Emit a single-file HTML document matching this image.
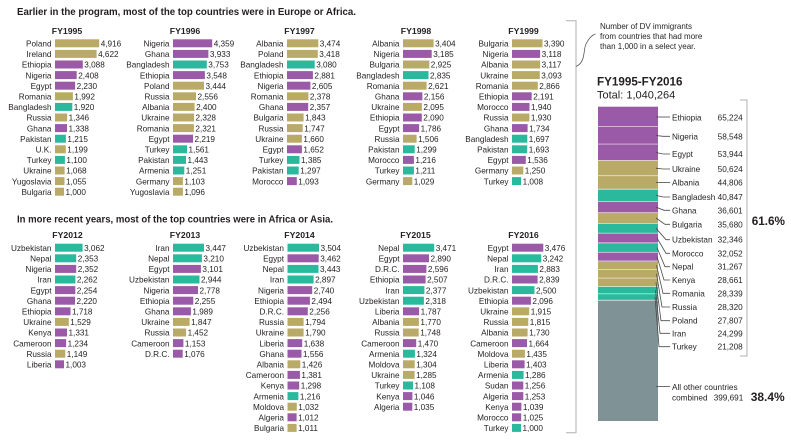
<!DOCTYPE html>
<html><head><meta charset="utf-8"><style>
html,body{margin:0;padding:0;background:#fff;}
svg{display:block;font-family:"Liberation Sans",sans-serif;}
.k{fill:#b9ab67}.p{fill:#9b5aa7}.t{fill:#2bb99e}
text{fill:#231f20;font-size:8.2px}
.l{text-anchor:end}
.h{font-weight:bold;font-size:10px}
.ti{font-weight:bold;font-size:8.7px;text-anchor:middle}
.ln{stroke:#4a4a4a;stroke-width:0.8;fill:none}
.br{stroke:#b0b0b0;stroke-width:1;fill:none}
</style></head><body>
<svg width="791" height="440" viewBox="0 0 791 440" xmlns="http://www.w3.org/2000/svg">
<rect width="791" height="440" fill="#fff"/>
<text class="h" x="17" y="15" textLength="339" lengthAdjust="spacingAndGlyphs">Earlier in the program, most of the top countries were in Europe or Africa.</text>
<text class="h" x="17" y="222.3" textLength="316" lengthAdjust="spacingAndGlyphs">In more recent years, most of the top countries were in Africa or Asia.</text>

<!-- titles -->
<text class="ti" x="67" y="34.2">FY1995</text>
<text class="ti" x="185" y="34.2">FY1996</text>
<text class="ti" x="299.5" y="34.2">FY1997</text>
<text class="ti" x="416" y="34.2">FY1998</text>
<text class="ti" x="523.5" y="34.2">FY1999</text>
<text class="ti" x="67.5" y="238.2">FY2012</text>
<text class="ti" x="185" y="238.2">FY2013</text>
<text class="ti" x="299.5" y="238.2">FY2014</text>
<text class="ti" x="415.5" y="238.2">FY2015</text>
<text class="ti" x="523.5" y="238.2">FY2016</text>

<!-- FY1995 -->
<g transform="translate(55,43.3)">
<g transform="translate(0,0)"><rect class="k" y="-4" width="44.2" height="8"/><text class="l" x="-3.5" y="3.2">Poland</text><text x="45.7" y="3.2">4,916</text></g>
<g transform="translate(0,10.6)"><rect class="k" y="-4" width="41.6" height="8"/><text class="l" x="-3.5" y="3.2">Ireland</text><text x="43.1" y="3.2">4,622</text></g>
<g transform="translate(0,21.2)"><rect class="p" y="-4" width="27.8" height="8"/><text class="l" x="-3.5" y="3.2">Ethiopia</text><text x="29.3" y="3.2">3,088</text></g>
<g transform="translate(0,31.8)"><rect class="p" y="-4" width="21.7" height="8"/><text class="l" x="-3.5" y="3.2">Nigeria</text><text x="23.2" y="3.2">2,408</text></g>
<g transform="translate(0,42.4)"><rect class="p" y="-4" width="20.1" height="8"/><text class="l" x="-3.5" y="3.2">Egypt</text><text x="21.6" y="3.2">2,230</text></g>
<g transform="translate(0,53)"><rect class="k" y="-4" width="17.9" height="8"/><text class="l" x="-3.5" y="3.2">Romania</text><text x="19.4" y="3.2">1,992</text></g>
<g transform="translate(0,63.6)"><rect class="t" y="-4" width="17.3" height="8"/><text class="l" x="-3.5" y="3.2">Bangladesh</text><text x="18.8" y="3.2">1,920</text></g>
<g transform="translate(0,74.2)"><rect class="k" y="-4" width="12.1" height="8"/><text class="l" x="-3.5" y="3.2">Russia</text><text x="13.6" y="3.2">1,346</text></g>
<g transform="translate(0,84.8)"><rect class="p" y="-4" width="12.0" height="8"/><text class="l" x="-3.5" y="3.2">Ghana</text><text x="13.5" y="3.2">1,338</text></g>
<g transform="translate(0,95.4)"><rect class="t" y="-4" width="10.9" height="8"/><text class="l" x="-3.5" y="3.2">Pakistan</text><text x="12.4" y="3.2">1,215</text></g>
<g transform="translate(0,106)"><rect class="k" y="-4" width="10.8" height="8"/><text class="l" x="-3.5" y="3.2">U.K.</text><text x="12.3" y="3.2">1,199</text></g>
<g transform="translate(0,116.6)"><rect class="t" y="-4" width="9.9" height="8"/><text class="l" x="-3.5" y="3.2">Turkey</text><text x="11.4" y="3.2">1,100</text></g>
<g transform="translate(0,127.2)"><rect class="k" y="-4" width="9.6" height="8"/><text class="l" x="-3.5" y="3.2">Ukraine</text><text x="11.1" y="3.2">1,068</text></g>
<g transform="translate(0,137.8)"><rect class="k" y="-4" width="9.5" height="8"/><text class="l" x="-3.5" y="3.2">Yugoslavia</text><text x="11.0" y="3.2">1,055</text></g>
<g transform="translate(0,148.4)"><rect class="k" y="-4" width="9.0" height="8"/><text class="l" x="-3.5" y="3.2">Bulgaria</text><text x="10.5" y="3.2">1,000</text></g>
</g>

<!-- FY1996 -->
<g transform="translate(173,43.3)">
<g transform="translate(0,0)"><rect class="p" y="-4" width="39.2" height="8"/><text class="l" x="-3.5" y="3.2">Nigeria</text><text x="40.7" y="3.2">4,359</text></g>
<g transform="translate(0,10.6)"><rect class="p" y="-4" width="35.4" height="8"/><text class="l" x="-3.5" y="3.2">Ghana</text><text x="36.9" y="3.2">3,933</text></g>
<g transform="translate(0,21.2)"><rect class="t" y="-4" width="33.8" height="8"/><text class="l" x="-3.5" y="3.2">Bangladesh</text><text x="35.3" y="3.2">3,753</text></g>
<g transform="translate(0,31.8)"><rect class="p" y="-4" width="31.9" height="8"/><text class="l" x="-3.5" y="3.2">Ethiopia</text><text x="33.4" y="3.2">3,548</text></g>
<g transform="translate(0,42.4)"><rect class="k" y="-4" width="31.0" height="8"/><text class="l" x="-3.5" y="3.2">Poland</text><text x="32.5" y="3.2">3,444</text></g>
<g transform="translate(0,53)"><rect class="k" y="-4" width="23.0" height="8"/><text class="l" x="-3.5" y="3.2">Russia</text><text x="24.5" y="3.2">2,556</text></g>
<g transform="translate(0,63.6)"><rect class="k" y="-4" width="21.6" height="8"/><text class="l" x="-3.5" y="3.2">Albania</text><text x="23.1" y="3.2">2,400</text></g>
<g transform="translate(0,74.2)"><rect class="k" y="-4" width="21.0" height="8"/><text class="l" x="-3.5" y="3.2">Ukraine</text><text x="22.5" y="3.2">2,328</text></g>
<g transform="translate(0,84.8)"><rect class="k" y="-4" width="20.9" height="8"/><text class="l" x="-3.5" y="3.2">Romania</text><text x="22.4" y="3.2">2,321</text></g>
<g transform="translate(0,95.4)"><rect class="p" y="-4" width="20.0" height="8"/><text class="l" x="-3.5" y="3.2">Egypt</text><text x="21.5" y="3.2">2,219</text></g>
<g transform="translate(0,106)"><rect class="t" y="-4" width="14.0" height="8"/><text class="l" x="-3.5" y="3.2">Turkey</text><text x="15.5" y="3.2">1,561</text></g>
<g transform="translate(0,116.6)"><rect class="t" y="-4" width="13.0" height="8"/><text class="l" x="-3.5" y="3.2">Pakistan</text><text x="14.5" y="3.2">1,443</text></g>
<g transform="translate(0,127.2)"><rect class="t" y="-4" width="11.3" height="8"/><text class="l" x="-3.5" y="3.2">Armenia</text><text x="12.8" y="3.2">1,251</text></g>
<g transform="translate(0,137.8)"><rect class="k" y="-4" width="9.9" height="8"/><text class="l" x="-3.5" y="3.2">Germany</text><text x="11.4" y="3.2">1,103</text></g>
<g transform="translate(0,148.4)"><rect class="k" y="-4" width="9.9" height="8"/><text class="l" x="-3.5" y="3.2">Yugoslavia</text><text x="11.4" y="3.2">1,096</text></g>
</g>

<!-- FY1997 -->
<g transform="translate(287,43.3)">
<g transform="translate(0,0)"><rect class="k" y="-4" width="31.3" height="8"/><text class="l" x="-3.5" y="3.2">Albania</text><text x="32.8" y="3.2">3,474</text></g>
<g transform="translate(0,10.6)"><rect class="k" y="-4" width="30.8" height="8"/><text class="l" x="-3.5" y="3.2">Poland</text><text x="32.3" y="3.2">3,418</text></g>
<g transform="translate(0,21.2)"><rect class="t" y="-4" width="27.7" height="8"/><text class="l" x="-3.5" y="3.2">Bangladesh</text><text x="29.2" y="3.2">3,080</text></g>
<g transform="translate(0,31.8)"><rect class="p" y="-4" width="25.9" height="8"/><text class="l" x="-3.5" y="3.2">Ethiopia</text><text x="27.4" y="3.2">2,881</text></g>
<g transform="translate(0,42.4)"><rect class="p" y="-4" width="23.4" height="8"/><text class="l" x="-3.5" y="3.2">Nigeria</text><text x="24.9" y="3.2">2,605</text></g>
<g transform="translate(0,53)"><rect class="k" y="-4" width="21.4" height="8"/><text class="l" x="-3.5" y="3.2">Romania</text><text x="22.9" y="3.2">2,378</text></g>
<g transform="translate(0,63.6)"><rect class="p" y="-4" width="21.2" height="8"/><text class="l" x="-3.5" y="3.2">Ghana</text><text x="22.7" y="3.2">2,357</text></g>
<g transform="translate(0,74.2)"><rect class="k" y="-4" width="16.6" height="8"/><text class="l" x="-3.5" y="3.2">Bulgaria</text><text x="18.1" y="3.2">1,843</text></g>
<g transform="translate(0,84.8)"><rect class="k" y="-4" width="15.7" height="8"/><text class="l" x="-3.5" y="3.2">Russia</text><text x="17.2" y="3.2">1,747</text></g>
<g transform="translate(0,95.4)"><rect class="k" y="-4" width="14.9" height="8"/><text class="l" x="-3.5" y="3.2">Ukraine</text><text x="16.4" y="3.2">1,660</text></g>
<g transform="translate(0,106)"><rect class="p" y="-4" width="14.9" height="8"/><text class="l" x="-3.5" y="3.2">Egypt</text><text x="16.4" y="3.2">1,652</text></g>
<g transform="translate(0,116.6)"><rect class="t" y="-4" width="12.5" height="8"/><text class="l" x="-3.5" y="3.2">Turkey</text><text x="14.0" y="3.2">1,385</text></g>
<g transform="translate(0,127.2)"><rect class="t" y="-4" width="11.7" height="8"/><text class="l" x="-3.5" y="3.2">Pakistan</text><text x="13.2" y="3.2">1,297</text></g>
<g transform="translate(0,137.8)"><rect class="p" y="-4" width="9.8" height="8"/><text class="l" x="-3.5" y="3.2">Morocco</text><text x="11.3" y="3.2">1,093</text></g>
</g>

<!-- FY1998 -->
<g transform="translate(403,43.3)">
<g transform="translate(0,0)"><rect class="k" y="-4" width="30.6" height="8"/><text class="l" x="-3.5" y="3.2">Albania</text><text x="32.1" y="3.2">3,404</text></g>
<g transform="translate(0,10.6)"><rect class="p" y="-4" width="28.7" height="8"/><text class="l" x="-3.5" y="3.2">Nigeria</text><text x="30.2" y="3.2">3,185</text></g>
<g transform="translate(0,21.2)"><rect class="k" y="-4" width="26.3" height="8"/><text class="l" x="-3.5" y="3.2">Bulgaria</text><text x="27.8" y="3.2">2,925</text></g>
<g transform="translate(0,31.8)"><rect class="t" y="-4" width="25.5" height="8"/><text class="l" x="-3.5" y="3.2">Bangladesh</text><text x="27.0" y="3.2">2,835</text></g>
<g transform="translate(0,42.4)"><rect class="k" y="-4" width="23.6" height="8"/><text class="l" x="-3.5" y="3.2">Romania</text><text x="25.1" y="3.2">2,621</text></g>
<g transform="translate(0,53)"><rect class="p" y="-4" width="19.4" height="8"/><text class="l" x="-3.5" y="3.2">Ghana</text><text x="20.9" y="3.2">2,156</text></g>
<g transform="translate(0,63.6)"><rect class="k" y="-4" width="18.9" height="8"/><text class="l" x="-3.5" y="3.2">Ukraine</text><text x="20.4" y="3.2">2,095</text></g>
<g transform="translate(0,74.2)"><rect class="p" y="-4" width="18.8" height="8"/><text class="l" x="-3.5" y="3.2">Ethiopia</text><text x="20.3" y="3.2">2,090</text></g>
<g transform="translate(0,84.8)"><rect class="p" y="-4" width="16.1" height="8"/><text class="l" x="-3.5" y="3.2">Egypt</text><text x="17.6" y="3.2">1,786</text></g>
<g transform="translate(0,95.4)"><rect class="k" y="-4" width="13.6" height="8"/><text class="l" x="-3.5" y="3.2">Russia</text><text x="15.1" y="3.2">1,506</text></g>
<g transform="translate(0,106)"><rect class="t" y="-4" width="11.7" height="8"/><text class="l" x="-3.5" y="3.2">Pakistan</text><text x="13.2" y="3.2">1,299</text></g>
<g transform="translate(0,116.6)"><rect class="p" y="-4" width="10.9" height="8"/><text class="l" x="-3.5" y="3.2">Morocco</text><text x="12.4" y="3.2">1,216</text></g>
<g transform="translate(0,127.2)"><rect class="t" y="-4" width="10.9" height="8"/><text class="l" x="-3.5" y="3.2">Turkey</text><text x="12.4" y="3.2">1,211</text></g>
<g transform="translate(0,137.8)"><rect class="k" y="-4" width="9.3" height="8"/><text class="l" x="-3.5" y="3.2">Germany</text><text x="10.8" y="3.2">1,029</text></g>
</g>

<!-- FY1999 -->
<g transform="translate(512,43.3)">
<g transform="translate(0,0)"><rect class="k" y="-4" width="30.5" height="8"/><text class="l" x="-3.5" y="3.2">Bulgaria</text><text x="32.0" y="3.2">3,390</text></g>
<g transform="translate(0,10.6)"><rect class="p" y="-4" width="28.1" height="8"/><text class="l" x="-3.5" y="3.2">Nigeria</text><text x="29.6" y="3.2">3,118</text></g>
<g transform="translate(0,21.2)"><rect class="k" y="-4" width="28.1" height="8"/><text class="l" x="-3.5" y="3.2">Albania</text><text x="29.6" y="3.2">3,117</text></g>
<g transform="translate(0,31.8)"><rect class="k" y="-4" width="27.8" height="8"/><text class="l" x="-3.5" y="3.2">Ukraine</text><text x="29.3" y="3.2">3,093</text></g>
<g transform="translate(0,42.4)"><rect class="k" y="-4" width="25.8" height="8"/><text class="l" x="-3.5" y="3.2">Romania</text><text x="27.3" y="3.2">2,866</text></g>
<g transform="translate(0,53)"><rect class="p" y="-4" width="19.7" height="8"/><text class="l" x="-3.5" y="3.2">Ethiopia</text><text x="21.2" y="3.2">2,191</text></g>
<g transform="translate(0,63.6)"><rect class="p" y="-4" width="17.5" height="8"/><text class="l" x="-3.5" y="3.2">Morocco</text><text x="19.0" y="3.2">1,940</text></g>
<g transform="translate(0,74.2)"><rect class="k" y="-4" width="17.4" height="8"/><text class="l" x="-3.5" y="3.2">Russia</text><text x="18.9" y="3.2">1,930</text></g>
<g transform="translate(0,84.8)"><rect class="p" y="-4" width="15.6" height="8"/><text class="l" x="-3.5" y="3.2">Ghana</text><text x="17.1" y="3.2">1,734</text></g>
<g transform="translate(0,95.4)"><rect class="t" y="-4" width="15.3" height="8"/><text class="l" x="-3.5" y="3.2">Bangladesh</text><text x="16.8" y="3.2">1,697</text></g>
<g transform="translate(0,106)"><rect class="t" y="-4" width="15.2" height="8"/><text class="l" x="-3.5" y="3.2">Pakistan</text><text x="16.7" y="3.2">1,693</text></g>
<g transform="translate(0,116.6)"><rect class="p" y="-4" width="13.8" height="8"/><text class="l" x="-3.5" y="3.2">Egypt</text><text x="15.3" y="3.2">1,536</text></g>
<g transform="translate(0,127.2)"><rect class="k" y="-4" width="11.3" height="8"/><text class="l" x="-3.5" y="3.2">Germany</text><text x="12.8" y="3.2">1,250</text></g>
<g transform="translate(0,137.8)"><rect class="t" y="-4" width="9.1" height="8"/><text class="l" x="-3.5" y="3.2">Turkey</text><text x="10.6" y="3.2">1,008</text></g>
</g>

<!-- FY2012 -->
<g transform="translate(55,247.7)">
<g transform="translate(0,0)"><rect class="t" y="-4" width="27.6" height="8"/><text class="l" x="-3.5" y="3.2">Uzbekistan</text><text x="29.1" y="3.2">3,062</text></g>
<g transform="translate(0,10.6)"><rect class="t" y="-4" width="21.2" height="8"/><text class="l" x="-3.5" y="3.2">Nepal</text><text x="22.7" y="3.2">2,353</text></g>
<g transform="translate(0,21.2)"><rect class="p" y="-4" width="21.2" height="8"/><text class="l" x="-3.5" y="3.2">Nigeria</text><text x="22.7" y="3.2">2,352</text></g>
<g transform="translate(0,31.8)"><rect class="t" y="-4" width="20.4" height="8"/><text class="l" x="-3.5" y="3.2">Iran</text><text x="21.9" y="3.2">2,262</text></g>
<g transform="translate(0,42.4)"><rect class="p" y="-4" width="20.3" height="8"/><text class="l" x="-3.5" y="3.2">Egypt</text><text x="21.8" y="3.2">2,254</text></g>
<g transform="translate(0,53)"><rect class="p" y="-4" width="20.0" height="8"/><text class="l" x="-3.5" y="3.2">Ghana</text><text x="21.5" y="3.2">2,220</text></g>
<g transform="translate(0,63.6)"><rect class="p" y="-4" width="15.5" height="8"/><text class="l" x="-3.5" y="3.2">Ethiopia</text><text x="17.0" y="3.2">1,718</text></g>
<g transform="translate(0,74.2)"><rect class="k" y="-4" width="13.8" height="8"/><text class="l" x="-3.5" y="3.2">Ukraine</text><text x="15.3" y="3.2">1,529</text></g>
<g transform="translate(0,84.8)"><rect class="p" y="-4" width="12.0" height="8"/><text class="l" x="-3.5" y="3.2">Kenya</text><text x="13.5" y="3.2">1,331</text></g>
<g transform="translate(0,95.4)"><rect class="p" y="-4" width="11.1" height="8"/><text class="l" x="-3.5" y="3.2">Cameroon</text><text x="12.6" y="3.2">1,234</text></g>
<g transform="translate(0,106)"><rect class="k" y="-4" width="10.3" height="8"/><text class="l" x="-3.5" y="3.2">Russia</text><text x="11.8" y="3.2">1,149</text></g>
<g transform="translate(0,116.6)"><rect class="p" y="-4" width="9.0" height="8"/><text class="l" x="-3.5" y="3.2">Liberia</text><text x="10.5" y="3.2">1,003</text></g>
</g>

<!-- FY2013 -->
<g transform="translate(173,247.7)">
<g transform="translate(0,0)"><rect class="t" y="-4" width="31.0" height="8"/><text class="l" x="-3.5" y="3.2">Iran</text><text x="32.5" y="3.2">3,447</text></g>
<g transform="translate(0,10.6)"><rect class="t" y="-4" width="28.9" height="8"/><text class="l" x="-3.5" y="3.2">Nepal</text><text x="30.4" y="3.2">3,210</text></g>
<g transform="translate(0,21.2)"><rect class="p" y="-4" width="27.9" height="8"/><text class="l" x="-3.5" y="3.2">Egypt</text><text x="29.4" y="3.2">3,101</text></g>
<g transform="translate(0,31.8)"><rect class="t" y="-4" width="26.5" height="8"/><text class="l" x="-3.5" y="3.2">Uzbekistan</text><text x="28.0" y="3.2">2,944</text></g>
<g transform="translate(0,42.4)"><rect class="p" y="-4" width="25.0" height="8"/><text class="l" x="-3.5" y="3.2">Nigeria</text><text x="26.5" y="3.2">2,778</text></g>
<g transform="translate(0,53)"><rect class="p" y="-4" width="20.3" height="8"/><text class="l" x="-3.5" y="3.2">Ethiopia</text><text x="21.8" y="3.2">2,255</text></g>
<g transform="translate(0,63.6)"><rect class="p" y="-4" width="17.9" height="8"/><text class="l" x="-3.5" y="3.2">Ghana</text><text x="19.4" y="3.2">1,989</text></g>
<g transform="translate(0,74.2)"><rect class="k" y="-4" width="16.6" height="8"/><text class="l" x="-3.5" y="3.2">Ukraine</text><text x="18.1" y="3.2">1,847</text></g>
<g transform="translate(0,84.8)"><rect class="k" y="-4" width="13.1" height="8"/><text class="l" x="-3.5" y="3.2">Russia</text><text x="14.6" y="3.2">1,452</text></g>
<g transform="translate(0,95.4)"><rect class="p" y="-4" width="10.4" height="8"/><text class="l" x="-3.5" y="3.2">Cameroon</text><text x="11.9" y="3.2">1,153</text></g>
<g transform="translate(0,106)"><rect class="p" y="-4" width="9.7" height="8"/><text class="l" x="-3.5" y="3.2">D.R.C.</text><text x="11.2" y="3.2">1,076</text></g>
</g>

<!-- FY2014 -->
<g transform="translate(287.5,247.7)">
<g transform="translate(0,0)"><rect class="t" y="-4" width="31.5" height="8"/><text class="l" x="-3.5" y="3.2">Uzbekistan</text><text x="33.0" y="3.2">3,504</text></g>
<g transform="translate(0,10.6)"><rect class="p" y="-4" width="31.2" height="8"/><text class="l" x="-3.5" y="3.2">Egypt</text><text x="32.7" y="3.2">3,462</text></g>
<g transform="translate(0,21.2)"><rect class="t" y="-4" width="31.0" height="8"/><text class="l" x="-3.5" y="3.2">Nepal</text><text x="32.5" y="3.2">3,443</text></g>
<g transform="translate(0,31.8)"><rect class="t" y="-4" width="26.1" height="8"/><text class="l" x="-3.5" y="3.2">Iran</text><text x="27.6" y="3.2">2,897</text></g>
<g transform="translate(0,42.4)"><rect class="p" y="-4" width="24.7" height="8"/><text class="l" x="-3.5" y="3.2">Nigeria</text><text x="26.2" y="3.2">2,740</text></g>
<g transform="translate(0,53)"><rect class="p" y="-4" width="22.4" height="8"/><text class="l" x="-3.5" y="3.2">Ethiopia</text><text x="23.9" y="3.2">2,494</text></g>
<g transform="translate(0,63.6)"><rect class="p" y="-4" width="20.3" height="8"/><text class="l" x="-3.5" y="3.2">D.R.C.</text><text x="21.8" y="3.2">2,256</text></g>
<g transform="translate(0,74.2)"><rect class="k" y="-4" width="16.1" height="8"/><text class="l" x="-3.5" y="3.2">Russia</text><text x="17.6" y="3.2">1,794</text></g>
<g transform="translate(0,84.8)"><rect class="k" y="-4" width="16.1" height="8"/><text class="l" x="-3.5" y="3.2">Ukraine</text><text x="17.6" y="3.2">1,790</text></g>
<g transform="translate(0,95.4)"><rect class="p" y="-4" width="14.7" height="8"/><text class="l" x="-3.5" y="3.2">Liberia</text><text x="16.2" y="3.2">1,638</text></g>
<g transform="translate(0,106)"><rect class="p" y="-4" width="14.0" height="8"/><text class="l" x="-3.5" y="3.2">Ghana</text><text x="15.5" y="3.2">1,556</text></g>
<g transform="translate(0,116.6)"><rect class="k" y="-4" width="12.8" height="8"/><text class="l" x="-3.5" y="3.2">Albania</text><text x="14.3" y="3.2">1,426</text></g>
<g transform="translate(0,127.2)"><rect class="p" y="-4" width="12.4" height="8"/><text class="l" x="-3.5" y="3.2">Cameroon</text><text x="13.9" y="3.2">1,381</text></g>
<g transform="translate(0,137.8)"><rect class="p" y="-4" width="11.7" height="8"/><text class="l" x="-3.5" y="3.2">Kenya</text><text x="13.2" y="3.2">1,298</text></g>
<g transform="translate(0,148.4)"><rect class="t" y="-4" width="10.9" height="8"/><text class="l" x="-3.5" y="3.2">Armenia</text><text x="12.4" y="3.2">1,216</text></g>
<g transform="translate(0,159)"><rect class="k" y="-4" width="9.3" height="8"/><text class="l" x="-3.5" y="3.2">Moldova</text><text x="10.8" y="3.2">1,032</text></g>
<g transform="translate(0,169.6)"><rect class="p" y="-4" width="9.1" height="8"/><text class="l" x="-3.5" y="3.2">Algeria</text><text x="10.6" y="3.2">1,012</text></g>
<g transform="translate(0,180.2)"><rect class="k" y="-4" width="9.1" height="8"/><text class="l" x="-3.5" y="3.2">Bulgaria</text><text x="10.6" y="3.2">1,011</text></g>
</g>

<!-- FY2015 -->
<g transform="translate(403,247.7)">
<g transform="translate(0,0)"><rect class="t" y="-4" width="31.2" height="8"/><text class="l" x="-3.5" y="3.2">Nepal</text><text x="32.7" y="3.2">3,471</text></g>
<g transform="translate(0,10.6)"><rect class="p" y="-4" width="26.0" height="8"/><text class="l" x="-3.5" y="3.2">Egypt</text><text x="27.5" y="3.2">2,890</text></g>
<g transform="translate(0,21.2)"><rect class="p" y="-4" width="23.4" height="8"/><text class="l" x="-3.5" y="3.2">D.R.C.</text><text x="24.9" y="3.2">2,596</text></g>
<g transform="translate(0,31.8)"><rect class="p" y="-4" width="22.6" height="8"/><text class="l" x="-3.5" y="3.2">Ethiopia</text><text x="24.1" y="3.2">2,507</text></g>
<g transform="translate(0,42.4)"><rect class="t" y="-4" width="21.4" height="8"/><text class="l" x="-3.5" y="3.2">Iran</text><text x="22.9" y="3.2">2,377</text></g>
<g transform="translate(0,53)"><rect class="t" y="-4" width="20.9" height="8"/><text class="l" x="-3.5" y="3.2">Uzbekistan</text><text x="22.4" y="3.2">2,318</text></g>
<g transform="translate(0,63.6)"><rect class="p" y="-4" width="16.1" height="8"/><text class="l" x="-3.5" y="3.2">Liberia</text><text x="17.6" y="3.2">1,787</text></g>
<g transform="translate(0,74.2)"><rect class="k" y="-4" width="15.9" height="8"/><text class="l" x="-3.5" y="3.2">Albania</text><text x="17.4" y="3.2">1,770</text></g>
<g transform="translate(0,84.8)"><rect class="k" y="-4" width="15.7" height="8"/><text class="l" x="-3.5" y="3.2">Russia</text><text x="17.2" y="3.2">1,748</text></g>
<g transform="translate(0,95.4)"><rect class="p" y="-4" width="13.2" height="8"/><text class="l" x="-3.5" y="3.2">Cameroon</text><text x="14.7" y="3.2">1,470</text></g>
<g transform="translate(0,106)"><rect class="t" y="-4" width="11.9" height="8"/><text class="l" x="-3.5" y="3.2">Armenia</text><text x="13.4" y="3.2">1,324</text></g>
<g transform="translate(0,116.6)"><rect class="k" y="-4" width="11.7" height="8"/><text class="l" x="-3.5" y="3.2">Moldova</text><text x="13.2" y="3.2">1,304</text></g>
<g transform="translate(0,127.2)"><rect class="k" y="-4" width="11.6" height="8"/><text class="l" x="-3.5" y="3.2">Ukraine</text><text x="13.1" y="3.2">1,285</text></g>
<g transform="translate(0,137.8)"><rect class="t" y="-4" width="10.0" height="8"/><text class="l" x="-3.5" y="3.2">Turkey</text><text x="11.5" y="3.2">1,108</text></g>
<g transform="translate(0,148.4)"><rect class="p" y="-4" width="9.4" height="8"/><text class="l" x="-3.5" y="3.2">Kenya</text><text x="10.9" y="3.2">1,046</text></g>
<g transform="translate(0,159)"><rect class="p" y="-4" width="9.3" height="8"/><text class="l" x="-3.5" y="3.2">Algeria</text><text x="10.8" y="3.2">1,035</text></g>
</g>

<!-- FY2016 -->
<g transform="translate(512,247.7)">
<g transform="translate(0,0)"><rect class="p" y="-4" width="31.3" height="8"/><text class="l" x="-3.5" y="3.2">Egypt</text><text x="32.8" y="3.2">3,476</text></g>
<g transform="translate(0,10.6)"><rect class="t" y="-4" width="29.2" height="8"/><text class="l" x="-3.5" y="3.2">Nepal</text><text x="30.7" y="3.2">3,242</text></g>
<g transform="translate(0,21.2)"><rect class="t" y="-4" width="25.9" height="8"/><text class="l" x="-3.5" y="3.2">Iran</text><text x="27.4" y="3.2">2,883</text></g>
<g transform="translate(0,31.8)"><rect class="p" y="-4" width="25.6" height="8"/><text class="l" x="-3.5" y="3.2">D.R.C.</text><text x="27.1" y="3.2">2,839</text></g>
<g transform="translate(0,42.4)"><rect class="t" y="-4" width="22.5" height="8"/><text class="l" x="-3.5" y="3.2">Uzbekistan</text><text x="24.0" y="3.2">2,500</text></g>
<g transform="translate(0,53)"><rect class="p" y="-4" width="18.9" height="8"/><text class="l" x="-3.5" y="3.2">Ethiopia</text><text x="20.4" y="3.2">2,096</text></g>
<g transform="translate(0,63.6)"><rect class="k" y="-4" width="17.2" height="8"/><text class="l" x="-3.5" y="3.2">Ukraine</text><text x="18.7" y="3.2">1,915</text></g>
<g transform="translate(0,74.2)"><rect class="k" y="-4" width="16.3" height="8"/><text class="l" x="-3.5" y="3.2">Russia</text><text x="17.8" y="3.2">1,815</text></g>
<g transform="translate(0,84.8)"><rect class="k" y="-4" width="15.6" height="8"/><text class="l" x="-3.5" y="3.2">Albania</text><text x="17.1" y="3.2">1,730</text></g>
<g transform="translate(0,95.4)"><rect class="p" y="-4" width="15.0" height="8"/><text class="l" x="-3.5" y="3.2">Cameroon</text><text x="16.5" y="3.2">1,664</text></g>
<g transform="translate(0,106)"><rect class="k" y="-4" width="12.9" height="8"/><text class="l" x="-3.5" y="3.2">Moldova</text><text x="14.4" y="3.2">1,435</text></g>
<g transform="translate(0,116.6)"><rect class="p" y="-4" width="12.6" height="8"/><text class="l" x="-3.5" y="3.2">Liberia</text><text x="14.1" y="3.2">1,403</text></g>
<g transform="translate(0,127.2)"><rect class="t" y="-4" width="11.6" height="8"/><text class="l" x="-3.5" y="3.2">Armenia</text><text x="13.1" y="3.2">1,286</text></g>
<g transform="translate(0,137.8)"><rect class="p" y="-4" width="11.3" height="8"/><text class="l" x="-3.5" y="3.2">Sudan</text><text x="12.8" y="3.2">1,256</text></g>
<g transform="translate(0,148.4)"><rect class="p" y="-4" width="11.3" height="8"/><text class="l" x="-3.5" y="3.2">Algeria</text><text x="12.8" y="3.2">1,253</text></g>
<g transform="translate(0,159)"><rect class="p" y="-4" width="9.4" height="8"/><text class="l" x="-3.5" y="3.2">Kenya</text><text x="10.9" y="3.2">1,039</text></g>
<g transform="translate(0,169.6)"><rect class="p" y="-4" width="9.2" height="8"/><text class="l" x="-3.5" y="3.2">Morocco</text><text x="10.7" y="3.2">1,025</text></g>
<g transform="translate(0,180.2)"><rect class="t" y="-4" width="9.0" height="8"/><text class="l" x="-3.5" y="3.2">Turkey</text><text x="10.5" y="3.2">1,000</text></g>
</g>

<!-- big bracket and curve -->
<path class="br" d="M566,20.7 H576 V432.7 H566"/>
<path d="M576,66.5 C586,62 583,50 586,44 C589,38 592,35 595.5,34" stroke="#555" stroke-width="0.8" fill="none"/>
<text x="600" y="29" style="font-size:8px">Number of DV immigrants</text>
<text x="600" y="38.9" style="font-size:8px">from countries that had more</text>
<text x="600" y="48.8" style="font-size:8px">than 1,000 in a select year.</text>

<text x="597" y="85.5" style="font-size:12px;font-weight:bold" textLength="85.5" lengthAdjust="spacingAndGlyphs">FY1995-FY2016</text>
<text x="597" y="98.7" style="font-size:11px">Total: 1,040,264</text>

<!-- stacked bar -->
<rect class="p" x="598" y="106.7" width="60" height="19.71"/>
<rect class="p" x="598" y="126.41" width="60" height="17.69"/>
<rect class="p" x="598" y="144.1" width="60" height="16.3"/>
<rect class="k" x="598" y="160.4" width="60" height="15.3"/>
<rect class="k" x="598" y="175.7" width="60" height="13.54"/>
<rect class="t" x="598" y="189.24" width="60" height="12.34"/>
<rect class="p" x="598" y="201.58" width="60" height="11.06"/>
<rect class="k" x="598" y="212.64" width="60" height="10.78"/>
<rect class="t" x="598" y="223.42" width="60" height="9.77"/>
<rect class="p" x="598" y="233.19" width="60" height="9.68"/>
<rect class="t" x="598" y="242.87" width="60" height="9.45"/>
<rect class="p" x="598" y="252.32" width="60" height="8.66"/>
<rect class="k" x="598" y="260.98" width="60" height="8.56"/>
<rect class="k" x="598" y="269.54" width="60" height="8.56"/>
<rect class="k" x="598" y="278.1" width="60" height="8.4"/>
<rect class="t" x="598" y="286.5" width="60" height="7.34"/>
<rect class="t" x="598" y="293.84" width="60" height="6.41"/>
<rect x="598" y="300.25" width="60" height="120.75" fill="#7f9396"/>
<g stroke="#ffffff" stroke-opacity="0.6" stroke-width="0.9">
<line x1="598" x2="658" y1="126.41" y2="126.41"/><line x1="598" x2="658" y1="144.1" y2="144.1"/>
<line x1="598" x2="658" y1="160.4" y2="160.4"/><line x1="598" x2="658" y1="175.7" y2="175.7"/>
<line x1="598" x2="658" y1="189.24" y2="189.24"/><line x1="598" x2="658" y1="201.58" y2="201.58"/>
<line x1="598" x2="658" y1="212.64" y2="212.64"/><line x1="598" x2="658" y1="223.42" y2="223.42"/>
<line x1="598" x2="658" y1="233.19" y2="233.19"/><line x1="598" x2="658" y1="242.87" y2="242.87"/>
<line x1="598" x2="658" y1="252.32" y2="252.32"/><line x1="598" x2="658" y1="260.98" y2="260.98"/>
<line x1="598" x2="658" y1="269.54" y2="269.54"/><line x1="598" x2="658" y1="278.1" y2="278.1"/>
<line x1="598" x2="658" y1="286.5" y2="286.5"/><line x1="598" x2="658" y1="293.84" y2="293.84"/>
<line x1="598" x2="658" y1="300.25" y2="300.25"/>
</g>

<!-- leader lines -->
<polyline class="ln" points="656,117 670,117"/>
<polyline class="ln" points="656,135.5 663,136.3 670,136.3"/>
<polyline class="ln" points="656,152.5 663,154 670,154"/>
<polyline class="ln" points="656,168.2 663,169 670,169"/>
<polyline class="ln" points="656,182.4 670,182.4"/>
<polyline class="ln" points="656,195.4 663,197 670,197"/>
<polyline class="ln" points="656,207.1 664,210.3 670,210.3"/>
<polyline class="ln" points="656,218 665,224.3 670,224.3"/>
<polyline class="ln" points="656,228.3 666,239.7 670,239.7"/>
<polyline class="ln" points="657,238 666,253.3 670,253.3"/>
<polyline class="ln" points="657,247.6 665,266.7 670,266.7"/>
<polyline class="ln" points="657,256.6 664,280 670,280"/>
<polyline class="ln" points="656.5,265.3 663,293.3 670,293.3"/>
<polyline class="ln" points="656.5,273.8 662,307 670,307"/>
<polyline class="ln" points="656,282.3 661,320.7 670,320.7"/>
<polyline class="ln" points="655.5,290.2 660,333.3 670,333.3"/>
<polyline class="ln" points="655,297 659,346.7 670,346.7"/>
<polyline class="ln" points="656,386.5 670,386.5"/>

<!-- right labels -->
<g>
<text x="672" y="120.3">Ethiopia</text><text class="l" x="742.7" y="120.3">65,224</text>
<text x="672" y="139.3">Nigeria</text><text class="l" x="742.7" y="139.3">58,548</text>
<text x="672" y="157">Egypt</text><text class="l" x="742.7" y="157">53,944</text>
<text x="672" y="172">Ukraine</text><text class="l" x="742.7" y="172">50,624</text>
<text x="672" y="185.3">Albania</text><text class="l" x="742.7" y="185.3">44,806</text>
<text x="672" y="200">Bangladesh</text><text class="l" x="742.7" y="200">40,847</text>
<text x="672" y="213.3">Ghana</text><text class="l" x="742.7" y="213.3">36,601</text>
<text x="672" y="227.3">Bulgaria</text><text class="l" x="742.7" y="227.3">35,680</text>
<text x="672" y="242.7">Uzbekistan</text><text class="l" x="742.7" y="242.7">32,346</text>
<text x="672" y="256.3">Morocco</text><text class="l" x="742.7" y="256.3">32,052</text>
<text x="672" y="269.7">Nepal</text><text class="l" x="742.7" y="269.7">31,267</text>
<text x="672" y="283">Kenya</text><text class="l" x="742.7" y="283">28,661</text>
<text x="672" y="296.3">Romania</text><text class="l" x="742.7" y="296.3">28,339</text>
<text x="672" y="310">Russia</text><text class="l" x="742.7" y="310">28,320</text>
<text x="672" y="323.7">Poland</text><text class="l" x="742.7" y="323.7">27,807</text>
<text x="672" y="336.3">Iran</text><text class="l" x="742.7" y="336.3">24,299</text>
<text x="672" y="349.7">Turkey</text><text class="l" x="742.7" y="349.7">21,208</text>
<text x="672" y="390">All other countries</text>
<text x="672" y="400.3">combined</text><text class="l" x="743.3" y="400.3">399,691</text>
</g>
<path class="br" d="M740,100 H747 V356 H740"/>
<text x="751.7" y="225" style="font-size:12px;font-weight:bold" textLength="33.3" lengthAdjust="spacingAndGlyphs">61.6%</text>
<text x="750.7" y="401" style="font-size:12px;font-weight:bold" textLength="34" lengthAdjust="spacingAndGlyphs">38.4%</text>
</svg>
</body></html>
